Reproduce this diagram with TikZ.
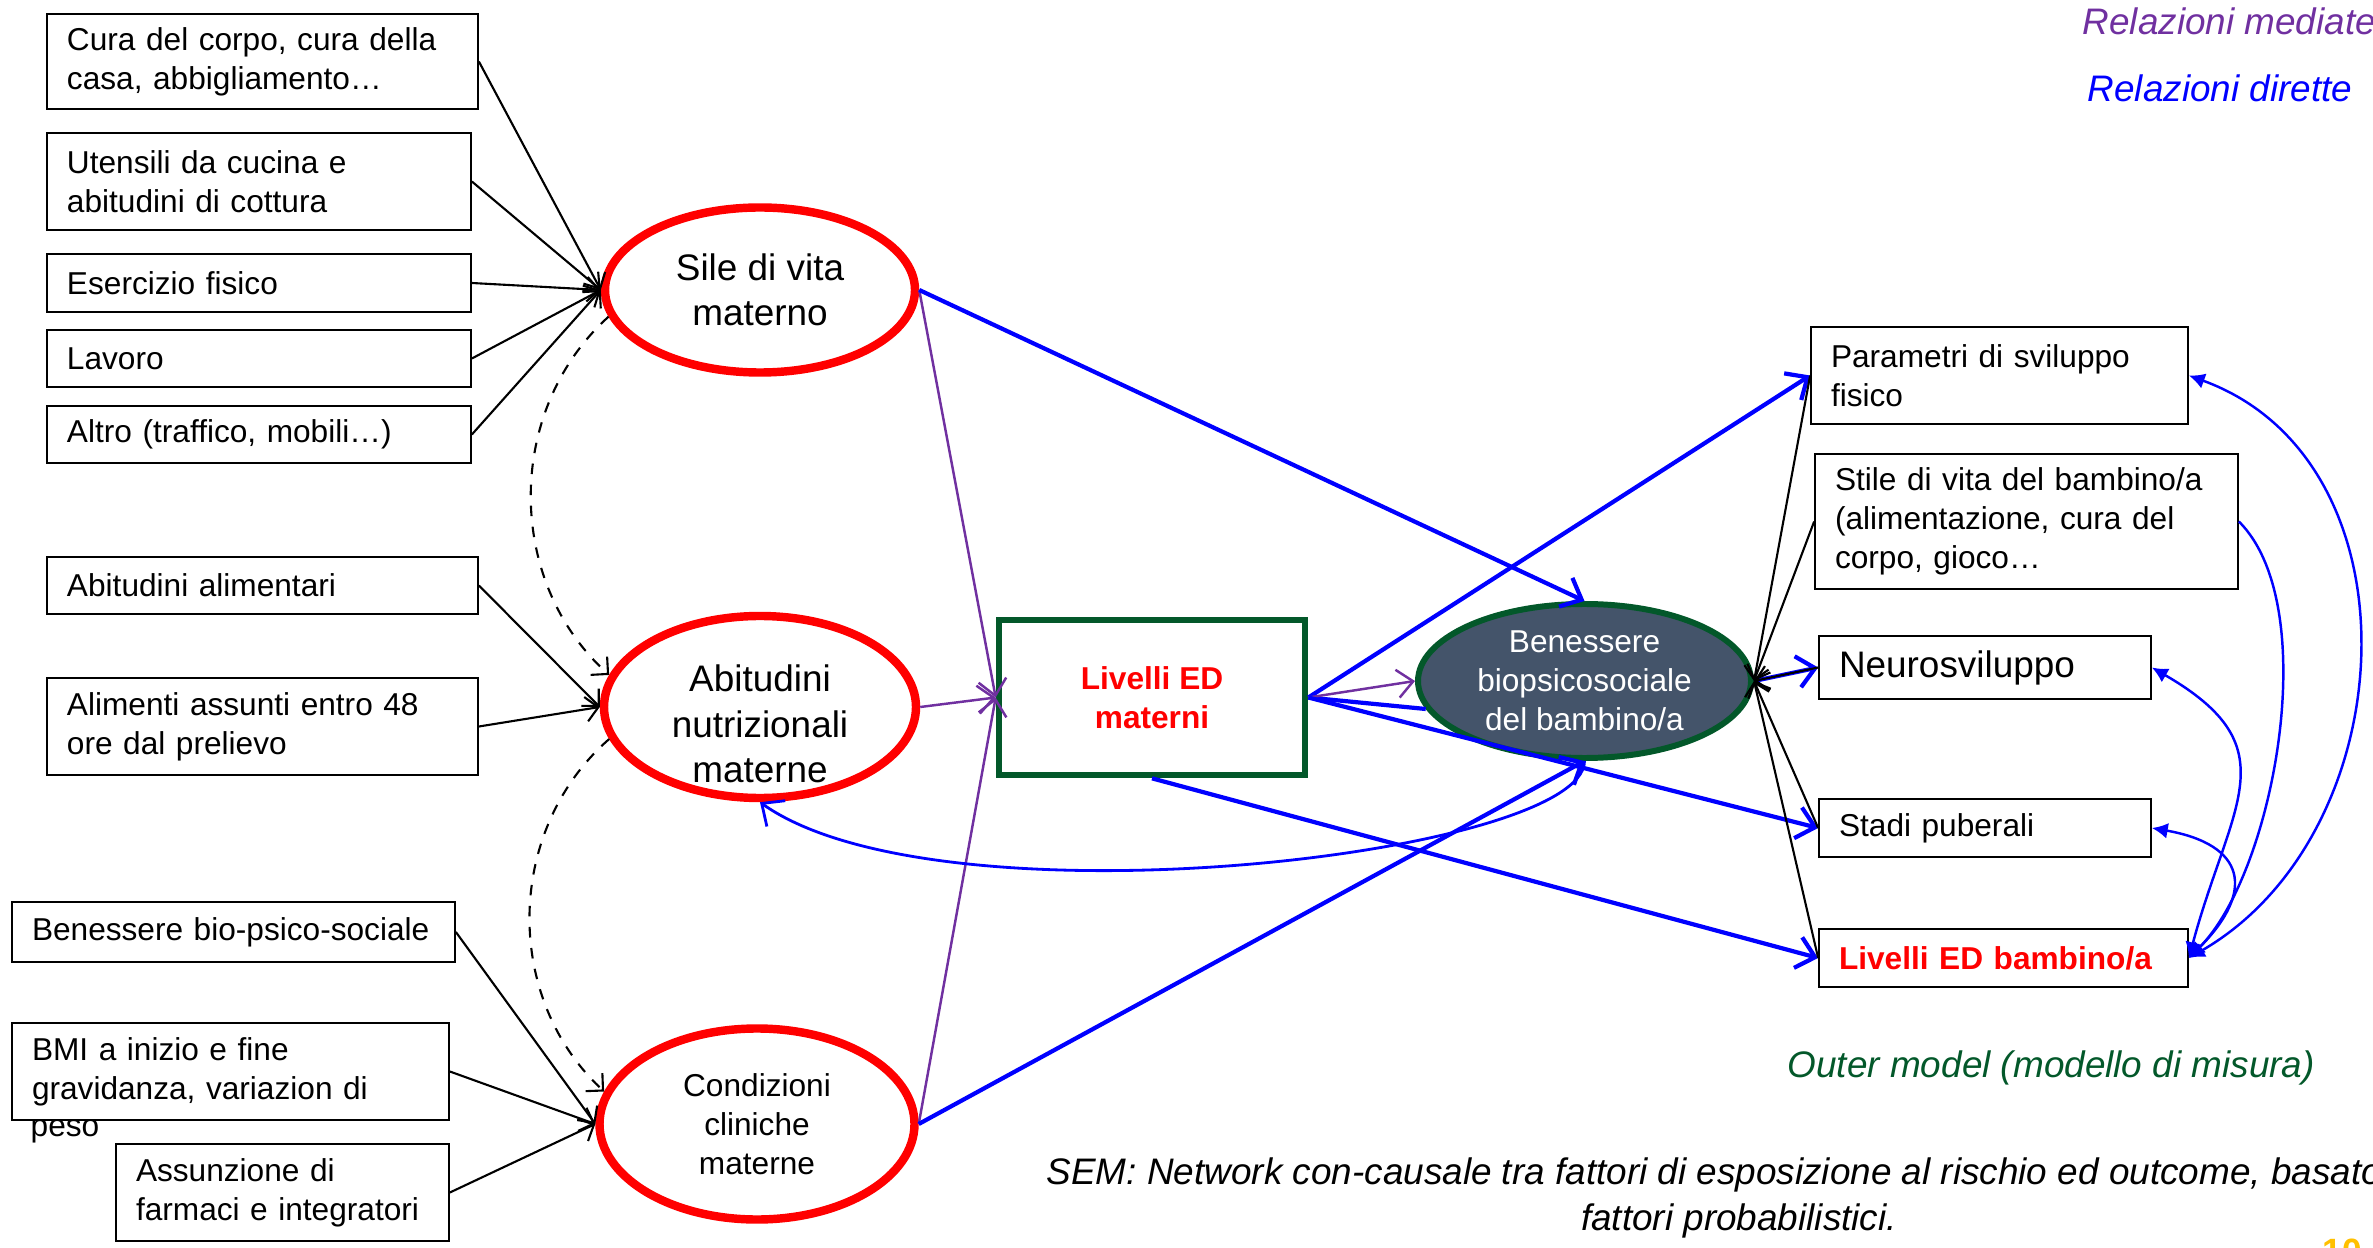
\documentclass[tikz,border=0pt]{standalone}
\usepackage{fontspec}
\setmainfont{Liberation Sans}
\usetikzlibrary{shapes.geometric,arrows.meta}
\definecolor{edred}{RGB}{255,0,0}
\definecolor{medpurple}{RGB}{112,48,160}
\definecolor{dirblue}{RGB}{0,0,255}
\definecolor{outgreen}{RGB}{3,88,42}
\definecolor{slate}{RGB}{68,84,106}
\definecolor{pagegold}{RGB}{255,192,0}
\newcommand{\smallsz}{\fontsize{9}{11.1}\selectfont}
\newcommand{\bigsz}{\fontsize{10.5}{12.9}\selectfont}

\begin{document}
\begin{tikzpicture}[
  factor/.style={draw, line width=0.5pt, align=left, inner xsep=0.2cm,
                 inner ysep=2pt, font=\smallsz},
  latent/.style={ellipse, draw=edred, line width=2.4pt, inner sep=0pt,
                 align=center},
  meas/.style={-{Straight Barb[length=3.5pt,width=7pt]}, line width=0.6pt},
  covar/.style={dashed, line width=0.6pt,
                -{Straight Barb[length=3.5pt,width=7pt]}},
  direct/.style={-{Straight Barb[length=5pt,width=9pt]}, dirblue,
                 line width=1.2pt},
  mediated/.style={-{Straight Barb[length=4.5pt,width=8pt]}, medpurple,
                   line width=0.7pt},
  ctip/.tip={Latex[length=4.5pt,width=4.5pt]},
  corr/.style={dirblue, line width=0.7pt},
  note/.style={font=\bigsz\itshape, inner sep=0pt}
]
  \useasboundingbox (0,0) rectangle (23.73,-12.48);

  \node[factor, text width=3.91cm, minimum height=0.95cm] (cura)    at (2.625,-0.615)  {Cura del corpo, cura della\\casa, abbigliamento…};
  \node[factor, text width=3.84cm, minimum height=0.97cm] (utens)   at (2.59,-1.815)   {Utensili da cucina e\\abitudini di cottura};
  \node[factor, text width=3.84cm, minimum height=0.58cm] (eserc)   at (2.59,-2.83)    {Esercizio fisico};
  \node[factor, text width=3.84cm, minimum height=0.57cm] (lavoro)  at (2.59,-3.585)   {Lavoro};
  \node[factor, text width=3.84cm, minimum height=0.57cm] (altro)   at (2.59,-4.345)   {Altro (traffico, mobili…)};
  \node[factor, text width=3.91cm, minimum height=0.57cm] (alim)    at (2.625,-5.855)  {Abitudini alimentari};
  \node[factor, text width=3.91cm, minimum height=0.97cm] (assunti) at (2.625,-7.265)  {Alimenti assunti entro 48\\ore dal prelievo};
  \node[factor, text width=4.03cm, minimum height=0.60cm] (benbps)  at (2.335,-9.32)   {Benessere bio-psico-sociale};
  \node[factor, text width=3.97cm, minimum height=0.97cm] (bmi)     at (2.305,-10.715) {BMI a inizio e fine\\gravidanza, variazion di};
  \node[font=\smallsz, anchor=west, inner sep=0pt]          (bmipeso) at (0.30,-11.31)   {peso};
  \node[factor, text width=2.93cm, minimum height=0.97cm] (farmaci) at (2.825,-11.925) {Assunzione di\\farmaci e integratori};

  \node[latent, minimum width=3.10cm, minimum height=1.65cm, font=\bigsz] (sile) at (7.60,-2.90) {Sile di vita\\materno};
  \node[latent, minimum width=3.12cm, minimum height=1.82cm] (nutr) at (7.60,-7.07) {};
  \node[font=\bigsz, align=center] (nutrtxt) at (7.60,-7.24) {Abitudini\\nutrizionali\\materne};
  \node[latent, minimum width=3.15cm, minimum height=1.91cm, font=\smallsz] (clin) at (7.57,-11.24) {Condizioni\\cliniche\\materne};

  \node[draw=outgreen, fill=white, line width=1.9pt, minimum width=3.06cm, minimum height=1.55cm,
        align=center, font=\smallsz\bfseries, text=edred] (edm) at (11.52,-6.975) {Livelli ED\\materni};
  \node[ellipse, draw=outgreen, line width=1.7pt, fill=slate, text=white, minimum width=3.33cm,
        minimum height=1.54cm, inner sep=0pt, align=center, font=\smallsz] (benb) at (15.845,-6.81)
        {Benessere\\biopsicosociale\\del bambino/a};

  \node[factor, text width=3.37cm, minimum height=0.97cm] (param) at (19.995,-3.755) {Parametri di sviluppo\\fisico};
  \node[factor, text width=3.83cm, minimum height=1.35cm] (stile) at (20.265,-5.215) {Stile di vita del bambino/a\\(alimentazione, cura del\\corpo, gioco…};
  \node[factor, text width=2.92cm, minimum height=0.63cm, font=\bigsz] (neuro) at (19.85,-6.675) {Neurosviluppo};
  \node[factor, text width=2.92cm, minimum height=0.58cm] (stadi) at (19.85,-8.28) {Stadi puberali};
  \node[factor, text width=3.29cm, minimum height=0.58cm, text=edred, font=\smallsz\bfseries] (edb) at (20.035,-9.58) {Livelli ED bambino/a};

  \node[note, text=medpurple, anchor=west] (legmed) at (20.82,-0.21) {Relazioni mediate};
  \node[note, text=dirblue, anchor=west]   (legdir) at (20.87,-0.88) {Relazioni dirette};
  \node[note, text=outgreen, anchor=west]  (outer)  at (17.87,-10.68) {Outer model (modello di misura)};
  \node[note, align=center] (sem) at (17.39,-11.98)
       {SEM: Network con-causale tra fattori di esposizione al rischio ed outcome, basato su\\fattori probabilistici.};
  \node[font=\fontsize{10}{12}\selectfont\bfseries, text=pagegold, anchor=base west, inner sep=0pt] (pnum) at (23.22,-12.63) {10};

  \foreach \src in {cura,utens,eserc,lavoro,altro}
    \draw[meas] (\src.east) -- (sile.west);
  \foreach \src in {alim,assunti}
    \draw[meas] (\src.east) -- (nutr.west);
  \foreach \src in {benbps,bmi,farmaci}
    \draw[meas] (\src.east) -- (clin.west);

  \draw[covar] (sile.190) to[bend right=48] (nutr.168);
  \draw[covar] (nutr.192) to[bend right=48] (clin.168);

  \foreach \src in {sile,nutr,clin}
    \draw[mediated] (\src.east) -- (edm.west);

  \draw[direct] (sile.east) -- (benb.north);
  \draw[direct] (clin.east) -- (benb.south);
  \draw[direct] (edm.east) -- (param.west);
  \draw[direct, -] (edm.east) -- (benb.190);
  \draw[mediated] (edm.east) -- (benb.west);
  \draw[direct] (edm.east) -- (stadi.west);
  \draw[direct] (edm.south) -- (edb.west);
  \draw[direct] (benb.east) -- (neuro.west);
  \draw[direct, line width=0.8pt] (benb.south) .. controls (15.84,-8.55) and (9.4,-9.3) .. (nutr.south);

  \foreach \dst in {param,stile,neuro,stadi,edb}
    \draw[meas] (\dst.west) -- (benb.east);

  \draw[corr, ctip-ctip] (edb.east) to[out=30, in=-20, looseness=1.1] (param.east);
  \draw[corr, -ctip] (stile.east) to[out=-45, in=45, looseness=0.7] (edb.east);
  \draw[corr, ctip-ctip] (edb.east) to[out=75, in=-30, looseness=1.4] (neuro.east);
  \draw[corr, ctip-ctip] (edb.east) to[out=45, in=-10, looseness=1.8] (stadi.east);
\end{tikzpicture}
\end{document}
